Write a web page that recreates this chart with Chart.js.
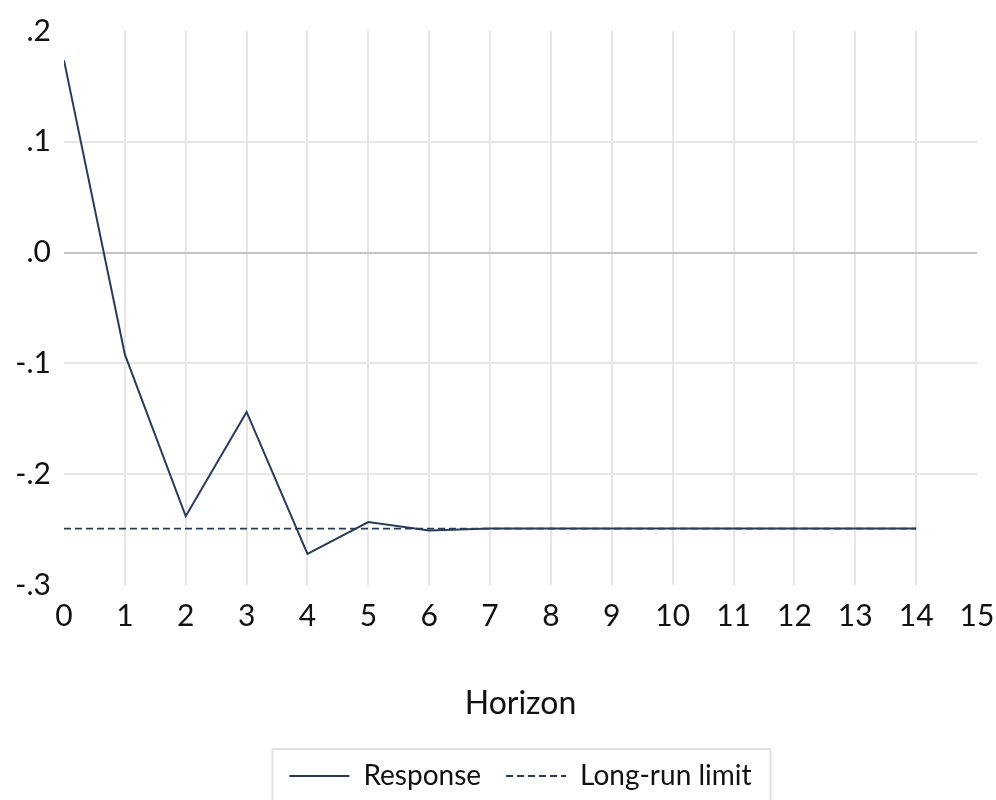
<!DOCTYPE html>
<html>
<head>
<meta charset="utf-8">
<script src="https://cdn.jsdelivr.net/npm/chart.js@4/dist/chart.umd.min.js"></script>
<style>
  html, body { margin: 0; padding: 0; background: #ffffff; }
  #wrap { width: 996px; height: 800px; position: relative; }
</style>
</head>
<body>
<div id="wrap"><canvas id="c" width="996" height="800"></canvas></div>
<script>
// ---- data ----
const horizons = [0, 1, 2, 3, 4, 5, 6, 7, 8, 9, 10, 11, 12, 13, 14];
const response = [0.1735, -0.0919, -0.238, -0.1438, -0.272, -0.2432, -0.2508, -0.2490, -0.2490, -0.2490, -0.2490, -0.2490, -0.2490, -0.2490, -0.2490];
const longRunLimit = [-0.2491, -0.2491, -0.2491, -0.2491, -0.2491, -0.2491, -0.2491, -0.2491, -0.2491, -0.2491, -0.2491, -0.2491, -0.2491, -0.2491, -0.2491];
const seriesNames = ['Response', 'Long-run limit'];
const xTitle = 'Horizon';
const xRange = [0, 15];
const yRange = [-0.3, 0.2];

const FONT = 'Lato, "Liberation Sans", sans-serif';
const NAVY = '#283b5b';
const DASH = [7, 4];

function fmtY(v) {
  const r = Math.round(v * 10) / 10;
  const s = Math.abs(r).toFixed(1).replace(/^0/, '');
  return (r < -1e-9 ? '-' : '') + s;
}

const legendBorder = {
  id: 'legendBorder',
  afterDraw(chart) {
    const lg = chart.legend;
    if (!lg || !lg.legendHitBoxes || !lg.legendHitBoxes.length) return;
    const hb = lg.legendHitBoxes;
    let l = Infinity, r = -Infinity;
    hb.forEach(b => { l = Math.min(l, b.left); r = Math.max(r, b.left + b.width); });
    const ctx = chart.ctx;
    ctx.save();
    ctx.strokeStyle = '#e2e2e2';
    ctx.lineWidth = 2;
    ctx.strokeRect(l - 17, lg.top + 12, (r - l) + 36, 70);
    ctx.restore();
  }
};

new Chart(document.getElementById('c'), {
  type: 'line',
  data: {
    datasets: [
      {
        label: seriesNames[0],
        data: horizons.map((h, i) => ({ x: h, y: response[i] })),
        borderColor: NAVY,
        backgroundColor: NAVY,
        borderWidth: 2,
        pointRadius: 0,
        tension: 0,
        fill: false
      },
      {
        label: seriesNames[1],
        data: horizons.map((h, i) => ({ x: h, y: longRunLimit[i] })),
        borderColor: NAVY,
        backgroundColor: NAVY,
        borderWidth: 1.6,
        borderDash: DASH,
        pointRadius: 0,
        tension: 0,
        fill: false
      }
    ]
  },
  options: {
    responsive: false,
    animation: false,
    devicePixelRatio: 1,
    layout: { padding: { left: 0, right: 0, top: 25, bottom: 0 } },
    plugins: {
      tooltip: { enabled: false },
      legend: {
        position: 'bottom',
        fullSize: false,
        labels: {
          usePointStyle: true,
          pointStyle: 'line',
          pointStyleWidth: 60,
          boxHeight: 28,
          padding: 25,
          color: '#111',
          font: { family: FONT, size: 28 },
          generateLabels(chart) {
            const items = Chart.defaults.plugins.legend.labels.generateLabels(chart);
            items.forEach(it => {
              const ds = chart.data.datasets[it.datasetIndex];
              it.lineDash = ds.borderDash || [];
              it.lineWidth = 2;
              it.strokeStyle = ds.borderColor;
              it.fillStyle = ds.borderColor;
            });
            return items;
          }
        }
      }
    },
    scales: {
      x: {
        type: 'linear',
        min: xRange[0],
        max: xRange[1],
        border: { display: false },
        grid: {
          drawTicks: false,
          lineWidth: 2,
          color: ctx => (ctx.tick && (ctx.tick.value === xRange[0] || ctx.tick.value === xRange[1])) ? 'rgba(0,0,0,0)' : '#e6e6e6'
        },
        ticks: {
          stepSize: 1,
          padding: 13,
          maxRotation: 0,
          autoSkip: false,
          color: '#111',
          font: { family: FONT, size: 30 }
        },
        title: {
          display: true,
          text: xTitle,
          color: '#111',
          font: { family: FONT, size: 32 },
          padding: { top: 0, bottom: 14 }
        },
        afterFit(scale) {
          scale.height = 152;
          scale.paddingRight = 19;
          scale.paddingLeft = 0;
        }
      },
      y: {
        min: yRange[0],
        max: yRange[1],
        border: { display: false },
        grid: {
          drawTicks: false,
          lineWidth: 2,
          color: ctx => {
            if (!ctx.tick) return '#e6e6e6';
            const v = Math.round(ctx.tick.value * 10) / 10;
            if (v === yRange[0] || v === yRange[1]) return 'rgba(0,0,0,0)';
            return v === 0 ? '#c4c4c4' : '#e6e6e6';
          }
        },
        ticks: {
          stepSize: 0.1,
          padding: 13,
          color: '#111',
          font: { family: FONT, size: 30 },
          callback: v => fmtY(v)
        },
        afterFit(scale) { scale.width = 64; }
      }
    }
  },
  plugins: [legendBorder]
});
</script>
</body>
</html>
